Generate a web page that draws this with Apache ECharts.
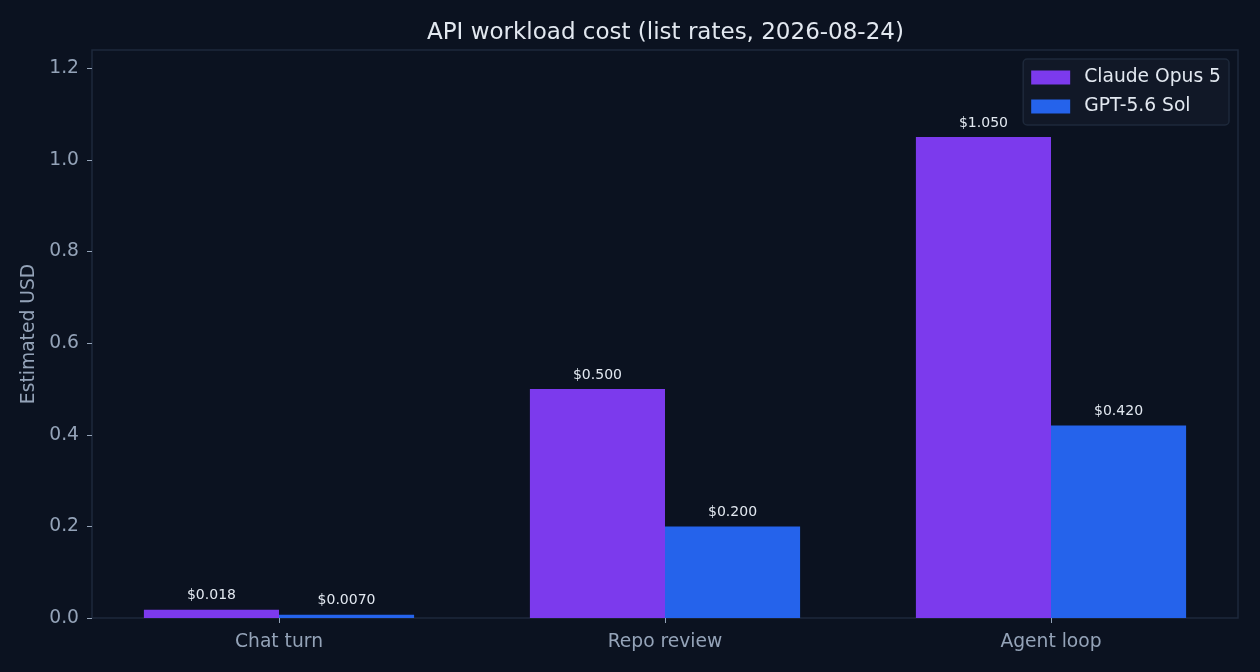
<!DOCTYPE html>
<html><head><meta charset="utf-8">
<script src="https://cdn.jsdelivr.net/npm/echarts@6/dist/echarts.min.js"></script>
<style>html,body{margin:0;padding:0;background:#0b1220;}#c{width:1260px;height:672px;}</style>
</head><body><div id="c"></div>
<script>
const categories = ['Chat turn', 'Repo review', 'Agent loop'];
const claudeValues = [0.018, 0.5, 1.05];
const gptValues = [0.007, 0.2, 0.42];
const seriesNames = ['Claude Opus 5', 'GPT-5.6 Sol'];
const yTicks = [0, 0.2, 0.4, 0.6, 0.8, 1.0, 1.2];

const FONT = 'DejaVu Sans';
const fmt = v => '$' + (v >= 0.01 ? v.toFixed(3) : v.toFixed(4));
const YMAX = 1.24;

const chart = echarts.init(document.getElementById('c'));
chart.setOption({
  backgroundColor: '#0b1220',
  animation: false,
  textStyle: { fontFamily: FONT },
  title: {
    text: 'API workload cost (list rates, 2026-08-24)',
    left: 422, top: 17,
    textStyle: { color: '#e2e8f0', fontSize: 23, fontWeight: 'normal', fontFamily: FONT }
  },
  legend: {
    orient: 'vertical', right: 31, top: 59,
    icon: 'rect',
    itemWidth: 39, itemHeight: 14, itemGap: 10,
    padding: [9, 8, 9, 8],
    backgroundColor: '#111827', borderColor: '#1e293b', borderWidth: 1.5, borderRadius: 4,
    textStyle: { color: '#e2e8f0', fontSize: 18.7, fontFamily: FONT, padding: [0, 0, 0, 9] },
    data: seriesNames
  },
  grid: [
    { left: 92, right: 22, top: 50, bottom: 54, show: true, borderColor: '#1e293b', borderWidth: 1.5, backgroundColor: 'transparent' },
    { left: 86, right: 16, top: 50, bottom: 54 }
  ],
  xAxis: [
    { gridIndex: 0, type: 'value', min: 0, max: 1, show: false },
    {
      gridIndex: 1, type: 'category', data: categories,
      axisLine: { show: false },
      axisTick: { show: true, alignWithLabel: true, length: 5, lineStyle: { color: '#94a3b8' } },
      axisLabel: { color: '#94a3b8', fontSize: 18.7, margin: 15, fontFamily: FONT }
    }
  ],
  yAxis: [
    {
      gridIndex: 0, type: 'value', min: 0, max: YMAX, interval: 0.2,
      name: 'Estimated USD', nameLocation: 'middle', nameGap: 50,
      nameTextStyle: { color: '#94a3b8', fontSize: 18.7, fontFamily: FONT },
      axisLine: { show: false },
      axisTick: { show: true, length: 5, lineStyle: { color: '#94a3b8' } },
      splitLine: { show: false },
      axisLabel: { color: '#94a3b8', fontSize: 18.7, margin: 13, fontFamily: FONT,
        formatter: v => yTicks.some(t => Math.abs(t - v) < 1e-9) ? v.toFixed(1) : '' ,
        showMaxLabel: false }
    },
    { gridIndex: 1, type: 'value', min: 0, max: YMAX, show: false }
  ],
  series: [
    {
      name: seriesNames[0], type: 'bar', xAxisIndex: 1, yAxisIndex: 1,
      data: claudeValues, barGap: '0%', barCategoryGap: '30%',
      itemStyle: { color: '#7c3aed' },
      label: { show: true, position: 'top', distance: 7, color: '#e2e8f0', fontSize: 14, fontFamily: FONT, formatter: p => fmt(p.value) }
    },
    {
      name: seriesNames[1], type: 'bar', xAxisIndex: 1, yAxisIndex: 1,
      data: gptValues, barGap: '0%', barCategoryGap: '30%',
      itemStyle: { color: '#2563eb' },
      label: { show: true, position: 'top', distance: 7, color: '#e2e8f0', fontSize: 14, fontFamily: FONT, formatter: p => fmt(p.value) }
    }
  ]
});
</script></body></html>
